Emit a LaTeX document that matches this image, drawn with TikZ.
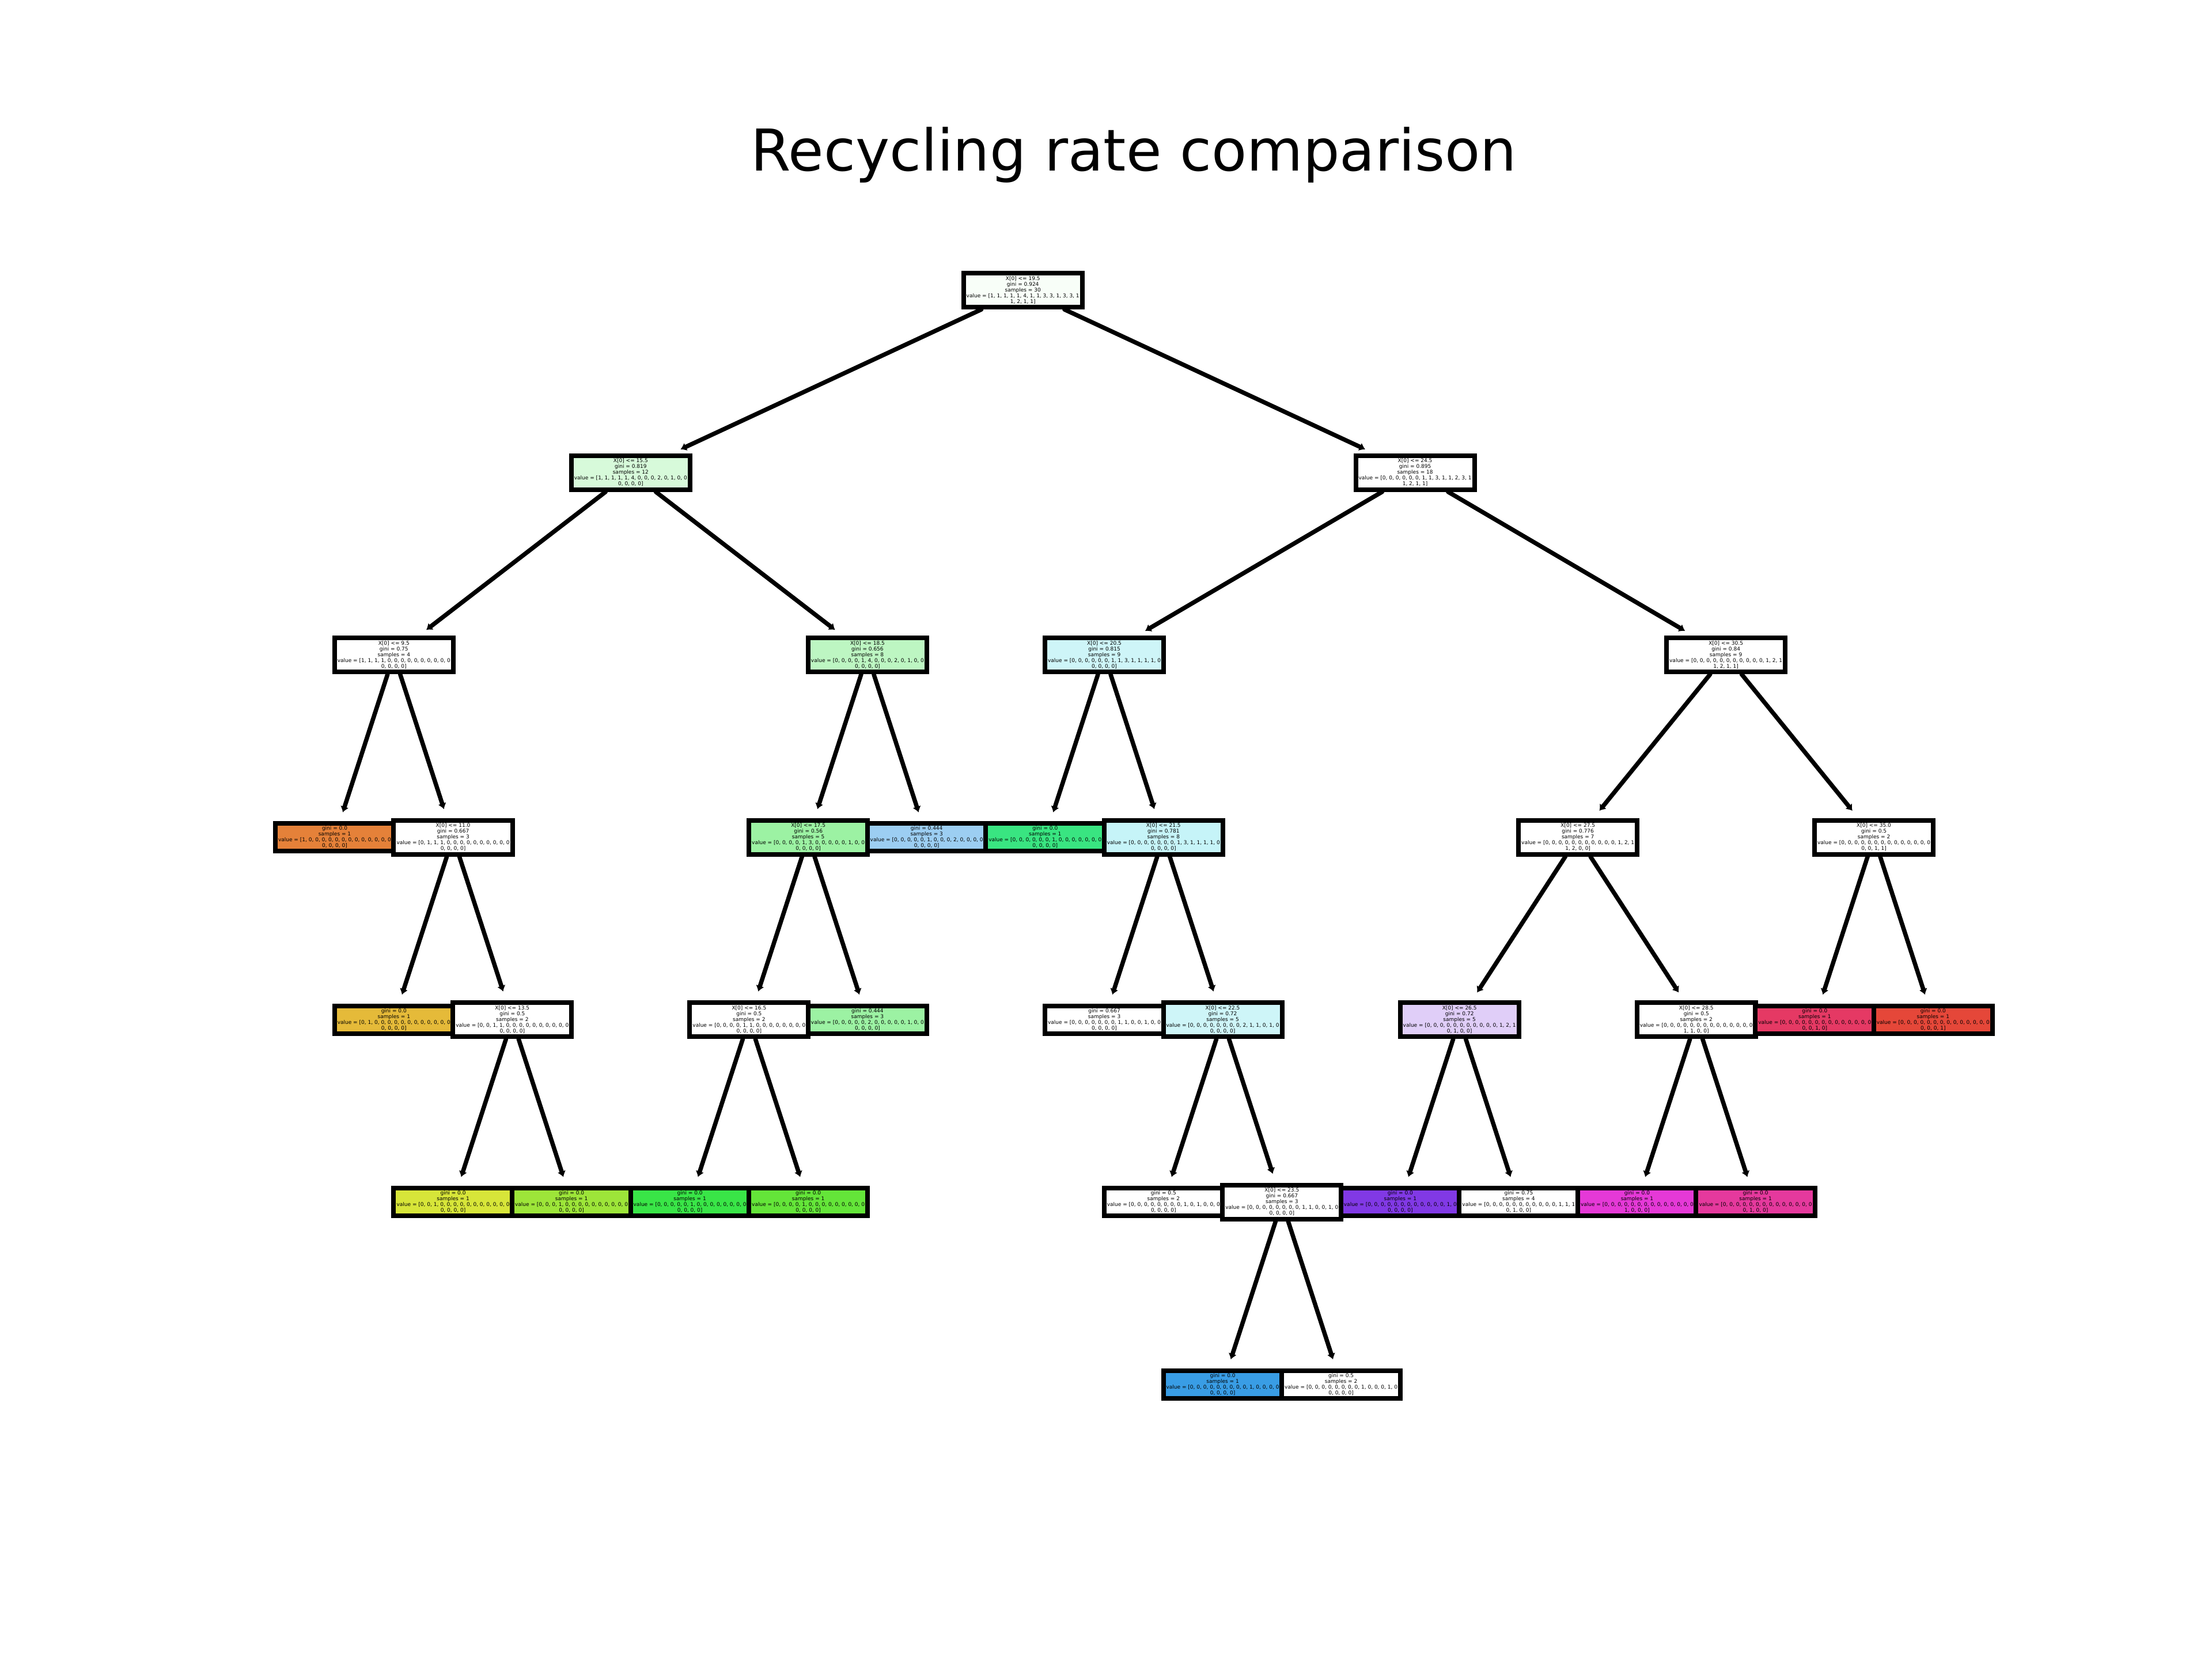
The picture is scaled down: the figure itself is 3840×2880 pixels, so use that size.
\documentclass[tikz,border=0pt]{standalone}
\usepackage{fontspec}
\setmainfont{DejaVu Sans}
\usetikzlibrary{arrows.meta}
\definecolor{cRoot}{RGB}{248,254,248}
\definecolor{cA}{RGB}{215,250,218}
\definecolor{cAb}{RGB}{189,246,194}
\definecolor{cBa}{RGB}{206,245,248}
\definecolor{cBaR}{RGB}{198,244,248}
\definecolor{cG50}{RGB}{156,242,163}
\definecolor{cBl50}{RGB}{156,206,242}
\definecolor{cP25}{RGB}{224,206,248}
\definecolor{cl0}{RGB}{229,129,57}
\definecolor{cl1}{RGB}{229,186,57}
\definecolor{cl2}{RGB}{215,229,57}
\definecolor{cl3}{RGB}{157,229,57}
\definecolor{cl4}{RGB}{100,229,57}
\definecolor{cl5}{RGB}{57,229,71}
\definecolor{cl6}{RGB}{57,229,129}
\definecolor{cl9}{RGB}{57,157,229}
\definecolor{cl12}{RGB}{129,57,229}
\definecolor{cl14}{RGB}{229,57,215}
\definecolor{cl15}{RGB}{229,57,157}
\definecolor{cl16}{RGB}{229,57,100}
\definecolor{cl17}{RGB}{229,71,57}
\newcommand{\tfont}{\fontsize{2.56pt}{2.85pt}\selectfont}
\tikzset{
  dnode/.style={draw=black, line width=0.08cm, minimum width=2.06cm, minimum height=0.59cm, inner sep=0pt, align=center, font=\tfont, fill=white},
  lnode/.style={dnode, minimum height=0.48cm},
  edge/.style={line width=0.075cm, line cap=round, -{Latex[length=0.1cm,width=0.15cm]}, shorten >=0.16cm},
}
\begin{document}
\begin{tikzpicture}[x=0.01cm,y=-0.01cm]
\path[fill=white] (0,0) rectangle (3840,2880);
\useasboundingbox (0,0) rectangle (3840,2880);
\node[anchor=base, font=\fontsize{28.45pt}{34pt}\selectfont] (title) at (1968,296) {Recycling rate comparison};
% level 0
\node[dnode, fill=cRoot] (n0) at ({581+11.625*102.77},503.5) {X[0] <= 19.5\\gini = 0.924\\samples = 30\\value = [1, 1, 1, 1, 1, 4, 1, 1, 3, 3, 1, 3, 3, 1\\1, 2, 1, 1]};
% left subtree
\node[dnode, fill=cA] (nA) at ({581+5*102.77},820) {X[0] <= 15.5\\gini = 0.819\\samples = 12\\value = [1, 1, 1, 1, 1, 4, 0, 0, 0, 2, 0, 1, 0, 0\\0, 0, 0, 0]};
\node[dnode] (nA1) at ({581+1*102.77},1136.5) {X[0] <= 9.5\\gini = 0.75\\samples = 4\\value = [1, 1, 1, 1, 0, 0, 0, 0, 0, 0, 0, 0, 0, 0\\0, 0, 0, 0]};
\node[lnode, fill=cl0] (nA1L) at ({581+0*102.77},1453) {gini = 0.0\\samples = 1\\value = [1, 0, 0, 0, 0, 0, 0, 0, 0, 0, 0, 0, 0, 0\\0, 0, 0, 0]};
\node[dnode] (nA1R) at ({581+2*102.77},1453) {X[0] <= 11.0\\gini = 0.667\\samples = 3\\value = [0, 1, 1, 1, 0, 0, 0, 0, 0, 0, 0, 0, 0, 0\\0, 0, 0, 0]};
\node[lnode, fill=cl1] (nA1Rl) at ({581+1*102.77},1769.5) {gini = 0.0\\samples = 1\\value = [0, 1, 0, 0, 0, 0, 0, 0, 0, 0, 0, 0, 0, 0\\0, 0, 0, 0]};
\node[dnode] (nA1Rr) at ({581+3*102.77},1769.5) {X[0] <= 13.5\\gini = 0.5\\samples = 2\\value = [0, 0, 1, 1, 0, 0, 0, 0, 0, 0, 0, 0, 0, 0\\0, 0, 0, 0]};
\node[lnode, fill=cl2] (nA1Rrl) at ({581+2*102.77},2086) {gini = 0.0\\samples = 1\\value = [0, 0, 1, 0, 0, 0, 0, 0, 0, 0, 0, 0, 0, 0\\0, 0, 0, 0]};
\node[lnode, fill=cl3] (nA1Rrr) at ({581+4*102.77},2086) {gini = 0.0\\samples = 1\\value = [0, 0, 0, 1, 0, 0, 0, 0, 0, 0, 0, 0, 0, 0\\0, 0, 0, 0]};
\node[dnode, fill=cAb] (nA2) at ({581+9*102.77},1136.5) {X[0] <= 18.5\\gini = 0.656\\samples = 8\\value = [0, 0, 0, 0, 1, 4, 0, 0, 0, 2, 0, 1, 0, 0\\0, 0, 0, 0]};
\node[dnode, fill=cG50] (nA2L) at ({581+8*102.77},1453) {X[0] <= 17.5\\gini = 0.56\\samples = 5\\value = [0, 0, 0, 0, 1, 3, 0, 0, 0, 0, 0, 1, 0, 0\\0, 0, 0, 0]};
\node[dnode] (nA2Ll) at ({581+7*102.77},1769.5) {X[0] <= 16.5\\gini = 0.5\\samples = 2\\value = [0, 0, 0, 0, 1, 1, 0, 0, 0, 0, 0, 0, 0, 0\\0, 0, 0, 0]};
\node[lnode, fill=cl5] (nA2Lll) at ({581+6*102.77},2086) {gini = 0.0\\samples = 1\\value = [0, 0, 0, 0, 0, 1, 0, 0, 0, 0, 0, 0, 0, 0\\0, 0, 0, 0]};
\node[lnode, fill=cl4] (nA2Llr) at ({581+8*102.77},2086) {gini = 0.0\\samples = 1\\value = [0, 0, 0, 0, 1, 0, 0, 0, 0, 0, 0, 0, 0, 0\\0, 0, 0, 0]};
\node[lnode, fill=cG50] (nA2Lr) at ({581+9*102.77},1769.5) {gini = 0.444\\samples = 3\\value = [0, 0, 0, 0, 0, 2, 0, 0, 0, 0, 0, 1, 0, 0\\0, 0, 0, 0]};
\node[lnode, fill=cBl50] (nA2R) at ({581+10*102.77},1453) {gini = 0.444\\samples = 3\\value = [0, 0, 0, 0, 0, 1, 0, 0, 0, 2, 0, 0, 0, 0\\0, 0, 0, 0]};
% right subtree
\node[dnode] (nB) at ({581+18.25*102.77},820) {X[0] <= 24.5\\gini = 0.895\\samples = 18\\value = [0, 0, 0, 0, 0, 0, 1, 1, 3, 1, 1, 2, 3, 1\\1, 2, 1, 1]};
\node[dnode, fill=cBa] (nB1) at ({581+13*102.77},1136.5) {X[0] <= 20.5\\gini = 0.815\\samples = 9\\value = [0, 0, 0, 0, 0, 0, 1, 1, 3, 1, 1, 1, 1, 0\\0, 0, 0, 0]};
\node[lnode, fill=cl6] (nB1L) at ({581+12*102.77},1453) {gini = 0.0\\samples = 1\\value = [0, 0, 0, 0, 0, 0, 1, 0, 0, 0, 0, 0, 0, 0\\0, 0, 0, 0]};
\node[dnode, fill=cBaR] (nB1R) at ({581+14*102.77},1453) {X[0] <= 21.5\\gini = 0.781\\samples = 8\\value = [0, 0, 0, 0, 0, 0, 0, 1, 3, 1, 1, 1, 1, 0\\0, 0, 0, 0]};
\node[lnode] (nB1Rl) at ({581+13*102.77},1769.5) {gini = 0.667\\samples = 3\\value = [0, 0, 0, 0, 0, 0, 0, 1, 1, 0, 0, 1, 0, 0\\0, 0, 0, 0]};
\node[dnode, fill=cBa] (nB1Rr) at ({581+15*102.77},1769.5) {X[0] <= 22.5\\gini = 0.72\\samples = 5\\value = [0, 0, 0, 0, 0, 0, 0, 0, 2, 1, 1, 0, 1, 0\\0, 0, 0, 0]};
\node[lnode] (nB1Rrl) at ({581+14*102.77},2086) {gini = 0.5\\samples = 2\\value = [0, 0, 0, 0, 0, 0, 0, 0, 1, 0, 1, 0, 0, 0\\0, 0, 0, 0]};
\node[dnode] (nB1Rrr) at ({581+16*102.77},2086) {X[0] <= 23.5\\gini = 0.667\\samples = 3\\value = [0, 0, 0, 0, 0, 0, 0, 0, 1, 1, 0, 0, 1, 0\\0, 0, 0, 0]};
\node[lnode, fill=cl9] (nB1Rrrl) at ({581+15*102.77},2402.5) {gini = 0.0\\samples = 1\\value = [0, 0, 0, 0, 0, 0, 0, 0, 0, 1, 0, 0, 0, 0\\0, 0, 0, 0]};
\node[lnode] (nB1Rrrr) at ({581+17*102.77},2402.5) {gini = 0.5\\samples = 2\\value = [0, 0, 0, 0, 0, 0, 0, 0, 1, 0, 0, 0, 1, 0\\0, 0, 0, 0]};
\node[dnode] (nB2) at ({581+23.5*102.77},1136.5) {X[0] <= 30.5\\gini = 0.84\\samples = 9\\value = [0, 0, 0, 0, 0, 0, 0, 0, 0, 0, 0, 1, 2, 1\\1, 2, 1, 1]};
\node[dnode] (nB2L) at ({581+21*102.77},1453) {X[0] <= 27.5\\gini = 0.776\\samples = 7\\value = [0, 0, 0, 0, 0, 0, 0, 0, 0, 0, 0, 1, 2, 1\\1, 2, 0, 0]};
\node[dnode, fill=cP25] (nB2Ll) at ({581+19*102.77},1769.5) {X[0] <= 26.5\\gini = 0.72\\samples = 5\\value = [0, 0, 0, 0, 0, 0, 0, 0, 0, 0, 0, 1, 2, 1\\0, 1, 0, 0]};
\node[lnode, fill=cl12] (nB2Lll) at ({581+18*102.77},2086) {gini = 0.0\\samples = 1\\value = [0, 0, 0, 0, 0, 0, 0, 0, 0, 0, 0, 0, 1, 0\\0, 0, 0, 0]};
\node[lnode] (nB2Llr) at ({581+20*102.77},2086) {gini = 0.75\\samples = 4\\value = [0, 0, 0, 0, 0, 0, 0, 0, 0, 0, 0, 1, 1, 1\\0, 1, 0, 0]};
\node[dnode] (nB2Lr) at ({581+23*102.77},1769.5) {X[0] <= 28.5\\gini = 0.5\\samples = 2\\value = [0, 0, 0, 0, 0, 0, 0, 0, 0, 0, 0, 0, 0, 0\\1, 1, 0, 0]};
\node[lnode, fill=cl14] (nB2Lrl) at ({581+22*102.77},2086) {gini = 0.0\\samples = 1\\value = [0, 0, 0, 0, 0, 0, 0, 0, 0, 0, 0, 0, 0, 0\\1, 0, 0, 0]};
\node[lnode, fill=cl15] (nB2Lrr) at ({581+24*102.77},2086) {gini = 0.0\\samples = 1\\value = [0, 0, 0, 0, 0, 0, 0, 0, 0, 0, 0, 0, 0, 0\\0, 1, 0, 0]};
\node[dnode] (nB2R) at ({581+26*102.77},1453) {X[0] <= 35.0\\gini = 0.5\\samples = 2\\value = [0, 0, 0, 0, 0, 0, 0, 0, 0, 0, 0, 0, 0, 0\\0, 0, 1, 1]};
\node[lnode, fill=cl16] (nB2Rl) at ({581+25*102.77},1769.5) {gini = 0.0\\samples = 1\\value = [0, 0, 0, 0, 0, 0, 0, 0, 0, 0, 0, 0, 0, 0\\0, 0, 1, 0]};
\node[lnode, fill=cl17] (nB2Rr) at ({581+27*102.77},1769.5) {gini = 0.0\\samples = 1\\value = [0, 0, 0, 0, 0, 0, 0, 0, 0, 0, 0, 0, 0, 0\\0, 0, 0, 1]};
% edges
\draw[edge] (n0) -- (nA);
\draw[edge] (n0) -- (nB);
\draw[edge] (nA) -- (nA1);
\draw[edge] (nA) -- (nA2);
\draw[edge] (nA1) -- (nA1L);
\draw[edge] (nA1) -- (nA1R);
\draw[edge] (nA1R) -- (nA1Rl);
\draw[edge] (nA1R) -- (nA1Rr);
\draw[edge] (nA1Rr) -- (nA1Rrl);
\draw[edge] (nA1Rr) -- (nA1Rrr);
\draw[edge] (nA2) -- (nA2L);
\draw[edge] (nA2) -- (nA2R);
\draw[edge] (nA2L) -- (nA2Ll);
\draw[edge] (nA2L) -- (nA2Lr);
\draw[edge] (nA2Ll) -- (nA2Lll);
\draw[edge] (nA2Ll) -- (nA2Llr);
\draw[edge] (nB) -- (nB1);
\draw[edge] (nB) -- (nB2);
\draw[edge] (nB1) -- (nB1L);
\draw[edge] (nB1) -- (nB1R);
\draw[edge] (nB1R) -- (nB1Rl);
\draw[edge] (nB1R) -- (nB1Rr);
\draw[edge] (nB1Rr) -- (nB1Rrl);
\draw[edge] (nB1Rr) -- (nB1Rrr);
\draw[edge] (nB1Rrr) -- (nB1Rrrl);
\draw[edge] (nB1Rrr) -- (nB1Rrrr);
\draw[edge] (nB2) -- (nB2L);
\draw[edge] (nB2) -- (nB2R);
\draw[edge] (nB2L) -- (nB2Ll);
\draw[edge] (nB2L) -- (nB2Lr);
\draw[edge] (nB2Ll) -- (nB2Lll);
\draw[edge] (nB2Ll) -- (nB2Llr);
\draw[edge] (nB2Lr) -- (nB2Lrl);
\draw[edge] (nB2Lr) -- (nB2Lrr);
\draw[edge] (nB2R) -- (nB2Rl);
\draw[edge] (nB2R) -- (nB2Rr);
\end{tikzpicture}
\end{document}
